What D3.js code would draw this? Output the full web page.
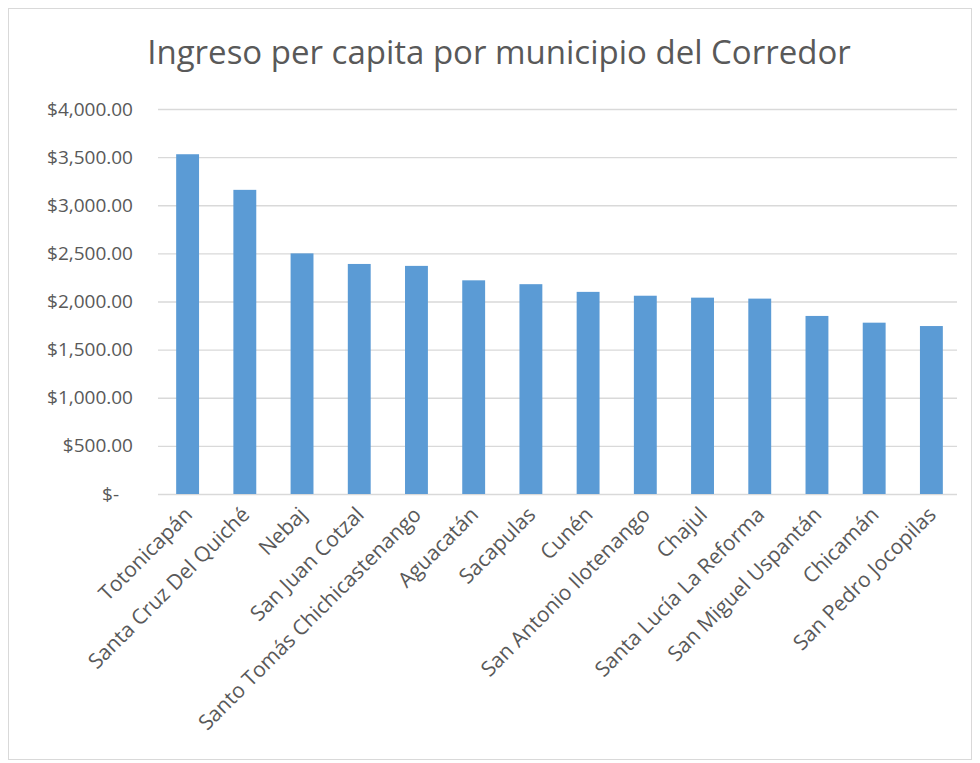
<!DOCTYPE html>
<html>
<head>
<meta charset="utf-8">
<script src="https://cdn.jsdelivr.net/npm/d3@7"></script>
<style>
  body { margin: 0; background: #fff; }
  text { font-family: "Open Sans", "Noto Sans", sans-serif; fill: #595959; }
</style>
</head>
<body>
<div id="chart"></div>
<script>
const municipios = [
  "Totonicapán", "Santa Cruz Del Quiché", "Nebaj", "San Juan Cotzal",
  "Santo Tomás Chichicastenango", "Aguacatán", "Sacapulas", "Cunén",
  "San Antonio Ilotenango", "Chajul", "Santa Lucía La Reforma",
  "San Miguel Uspantán", "Chicamán", "San Pedro Jocopilas"
];
const ingreso = [3530, 3160, 2500, 2390, 2370, 2220, 2180, 2100, 2060, 2040, 2030, 1850, 1780, 1745];
const yTicks = [0, 500, 1000, 1500, 2000, 2500, 3000, 3500, 4000];
const title = "Ingreso per capita por municipio del Corredor";

const WIDTH = 980, HEIGHT = 763;
const PLOT = { LEFT: 159, RIGHT: 960, TOP: 109, BOTTOM: 494 };

const svg = d3.select("#chart").append("svg")
  .attr("width", WIDTH)
  .attr("height", HEIGHT);

// chart area border
svg.append("rect")
  .attr("x", 8.5).attr("y", 8.5)
  .attr("width", 963).attr("height", 751)
  .attr("fill", "#fff")
  .attr("stroke", "#D9D9D9");

svg.append("text")
  .attr("x", 499).attr("y", 64)
  .attr("text-anchor", "middle")
  .style("font-size", "33px")
  .text(title);

const x = d3.scaleBand()
  .domain(municipios)
  .range([PLOT.LEFT, PLOT.RIGHT])
  .paddingInner(0.6)
  .paddingOuter(0.3);

const y = d3.scaleLinear()
  .domain([0, 4000])
  .range([PLOT.BOTTOM, PLOT.TOP]);

const fmt = d3.format(",.2f");

// gridlines + y labels
const yAxis = d3.axisLeft(y)
  .tickValues(yTicks)
  .tickSize(-(PLOT.RIGHT - PLOT.LEFT - 2))
  .tickPadding(25)
  .tickFormat(d => d === 0 ? "$-" : "$" + fmt(d));

const yG = svg.append("g")
  .attr("transform", `translate(${PLOT.LEFT - 1},0)`)
  .call(yAxis);
yG.select(".domain").remove();
yG.selectAll(".tick line").attr("stroke", "#D9D9D9").attr("stroke-width", 1.3);
yG.selectAll(".tick text")
  .style("font-size", "19px")
  .attr("fill", "#595959")
  .attr("dx", d => d === 0 ? -14 : 0);

// bars
svg.append("g")
  .selectAll("rect")
  .data(ingreso)
  .join("rect")
  .attr("x", (d, i) => x(municipios[i]))
  .attr("y", d => y(d))
  .attr("width", x.bandwidth())
  .attr("height", d => y(0) - y(d))
  .attr("fill", "#5B9BD5");

// x labels
const xAxis = d3.axisBottom(x).tickSize(0).tickPadding(0);
const xG = svg.append("g")
  .attr("transform", `translate(0,${PLOT.BOTTOM})`)
  .call(xAxis);
xG.select(".domain").remove();
xG.selectAll(".tick text")
  .style("font-size", "21px")
  .attr("fill", "#595959")
  .attr("text-anchor", "end")
  .attr("dy", null)
  .attr("y", 0)
  .attr("transform", "translate(6,22) rotate(-45)");
</script>
</body>
</html>
